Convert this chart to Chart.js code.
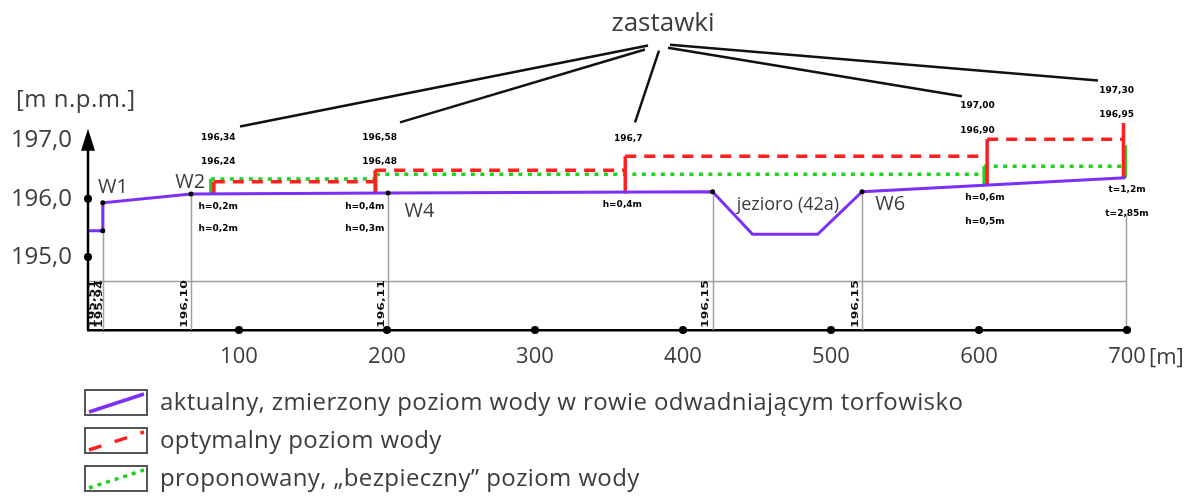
<!DOCTYPE html>
<html lang="pl">
<head>
<meta charset="utf-8">
<title>Profil poziomu wody</title>
<script src="https://cdn.jsdelivr.net/npm/chart.js@4.4.1/dist/chart.umd.min.js"></script>
<style>
  html, body { margin: 0; padding: 0; background: #fff; }
  #wrap { width: 1191px; height: 504px; }
</style>
</head>
<body>
<div id="wrap"><canvas id="profil" width="1191" height="504"></canvas></div>
<script>
// odległość [m] i rzędna [m n.p.m.]
const aktualnyX = [-2, 8, 8, 67.6, 200.7, 420, 447, 491, 521, 699];
const aktualnyY = [195.45, 195.45, 195.93, 196.08, 196.10, 196.12, 195.39, 195.39, 196.12, 196.36];

// optymalny poziom (null = przerwa)
const optymalnyX = [83, 83, 192, 192, 192, 192, 361, 361, 361, 361, 605.5, 605.5, 605.5, 605.5, 697.6, 697.6, 697.6];
const optymalnyY = [196.08, 196.29, 196.29, null, 196.09, 196.49, 196.49, null, 196.09, 196.73, 196.73, null, 196.23, 197.02, 197.02, 197.30, 196.37];

// proponowany, bezpieczny poziom
const bezpiecznyX = [81, 81, 192.5, 192.5, 192.5, 192.5, 603.5, 603.5, 603.5, 603.5, 699.5, 699.5, 699.5];
const bezpiecznyY = [196.08, 196.34, 196.34, null, 196.09, 196.42, 196.42, null, 196.23, 196.56, 196.56, 196.36, 196.92];

// punkty pomiarowe
const punktyX = [8, 8, 67.6, 200.7, 420, 521];
const punktyY = [195.45, 195.93, 196.08, 196.10, 196.12, 196.12];

const xTicks = [100, 200, 300, 400, 500, 600, 700];
const yTicks = [195, 196, 197];

// linie profilu i rzędne
const profilX = [8, 67.6, 200.7, 420, 521, 699];
const profilOd = [195.93, 196.08, 196.10, 196.12, 196.12, 195.73];
const rzedneX = [-2, 8, 67.6, 200.7, 420, 521];
const rzedne = ['195,51', '195,94', '196,10', '196,11', '196,15', '196,15'];
const liniaTabeli = 194.59;

// opisy zastawek
const opisGoraX = [86, 195, 363, 599, 693];
const opisGora = [['196,34', '196,24'], ['196,58', '196,48'], ['196,7'], ['197,00', '196,90'], ['197,30', '196,95']];
const opisGoraY = [[197.05, 196.63], [197.05, 196.63], [197.03], [197.59, 197.17], [197.86, 197.44]];
const opisDolX = [86, 185, 359, 604, 700];
const opisDol = [['h=0,2m', 'h=0,2m'], ['h=0,4m', 'h=0,3m'], ['h=0,4m'], ['h=0,6m', 'h=0,5m'], ['t=1,2m', 't=2,85m']];
const opisDolY = [[195.86, 195.49], [195.86, 195.49], [195.90], [196.02, 195.61], [196.15, 195.75]];

// wskaźniki od napisu "zastawki"
const wskazX0 = [376.4, 374.3, 383.8, 389.9, 391.2];
const wskazY0 = [198.63, 198.56, 198.54, 198.59, 198.64];
const wskazX1 = [100.7, 208.8, 367.6, 588.5, 680.4];
const wskazY1 = [197.24, 197.31, 197.31, 197.76, 198.03];

const wezlyNazwy = ['W1', 'W2', 'W4', 'W6'];
const wezlyX = [14.9, 67, 222, 540];
const wezlyY = [196.19, 196.29, 195.78, 195.90];

const legenda = [
  'aktualny, zmierzony poziom wody w rowie odwadniającym torfowisko',
  'optymalny poziom wody',
  'proponowany, \u201ebezpieczny\u201d poziom wody'
];

const FIOLET = '#7b2ff7', CZERWONY = '#ff1f1f', ZIELONY = '#1ed21e';
const TEKST = '#3c3c3c';
const FONT = '"Open Sans", sans-serif';

const pts = (xs, ys) => xs.map((x, i) => ({ x, y: ys[i] }));
const pion = (c) => c.p0.parsed.x === c.p1.parsed.x;

const dodatki = {
  id: 'dodatki',
  beforeDatasetsDraw(chart) {
    const { ctx, chartArea, scales: { x, y } } = chart;
    ctx.save();
    ctx.strokeStyle = '#a0a0a0';
    ctx.lineWidth = 1.5;
    profilX.forEach((v, i) => {
      const px = Math.round(x.getPixelForValue(v)) + 0.5;
      ctx.beginPath();
      ctx.moveTo(px, y.getPixelForValue(profilOd[i]));
      ctx.lineTo(px, chartArea.bottom);
      ctx.stroke();
    });
    const hy = Math.round(y.getPixelForValue(liniaTabeli)) + 0.5;
    ctx.beginPath();
    ctx.moveTo(chartArea.left, hy);
    ctx.lineTo(chartArea.right, hy);
    ctx.stroke();
    ctx.restore();
  },
  afterDraw(chart) {
    const { ctx, chartArea, scales: { x, y } } = chart;
    const ax = chartArea.left;
    ctx.save();

    // oś Y ze strzałką
    const tip = y.getPixelForValue(197.2);
    ctx.strokeStyle = '#000';
    ctx.fillStyle = '#000';
    ctx.lineWidth = 2.5;
    ctx.beginPath();
    ctx.moveTo(ax, chartArea.bottom);
    ctx.lineTo(ax, tip + 12);
    ctx.stroke();
    ctx.beginPath();
    ctx.moveTo(ax, tip);
    ctx.lineTo(ax - 7, tip + 22);
    ctx.lineTo(ax + 7, tip + 22);
    ctx.closePath();
    ctx.fill();

    // kropki na osiach
    [195, 196].forEach(v => {
      ctx.beginPath(); ctx.arc(ax, y.getPixelForValue(v), 4, 0, Math.PI * 2); ctx.fill();
    });
    xTicks.forEach(v => {
      ctx.beginPath(); ctx.arc(x.getPixelForValue(v), chartArea.bottom, 4, 0, Math.PI * 2); ctx.fill();
    });

    // opis osi
    ctx.fillStyle = TEKST;
    ctx.font = '24px ' + FONT;
    ctx.textBaseline = 'middle';
    ctx.textAlign = 'left';
    ctx.letterSpacing = '0.5px';
    ctx.fillText('[m n.p.m.]', 16, 100);
    ctx.font = '22px ' + FONT;
    ctx.letterSpacing = '0px';
    ctx.fillText('[m]', x.getPixelForValue(700) + 22, 358);

    // zastawki
    ctx.font = '26px ' + FONT;
    ctx.textAlign = 'center';
    ctx.fillText('zastawki', x.getPixelForValue(386.5), y.getPixelForValue(199.0));
    ctx.strokeStyle = '#111';
    ctx.lineWidth = 2.5;
    wskazX0.forEach((v, i) => {
      ctx.beginPath();
      ctx.moveTo(x.getPixelForValue(v), y.getPixelForValue(wskazY0[i]));
      ctx.lineTo(x.getPixelForValue(wskazX1[i]), y.getPixelForValue(wskazY1[i]));
      ctx.stroke();
    });

    // małe opisy
    ctx.fillStyle = '#000';
    ctx.font = 'bold 9px "DejaVu Sans"';
    opisGora.forEach((arr, i) => arr.forEach((t, j) =>
      ctx.fillText(t, x.getPixelForValue(opisGoraX[i]), y.getPixelForValue(opisGoraY[i][j]))));
    opisDol.forEach((arr, i) => arr.forEach((t, j) =>
      ctx.fillText(t, x.getPixelForValue(opisDolX[i]), y.getPixelForValue(opisDolY[i][j]))));

    // węzły i jezioro
    ctx.fillStyle = TEKST;
    ctx.font = '20px ' + FONT;
    wezlyNazwy.forEach((t, i) => ctx.fillText(t, x.getPixelForValue(wezlyX[i]), y.getPixelForValue(wezlyY[i])));
    ctx.font = '18px ' + FONT;
    ctx.fillText('jezioro (42a)', x.getPixelForValue(470.9), y.getPixelForValue(195.9));

    // rzędne (pionowo, wąskie)
    ctx.fillStyle = '#111';
    ctx.font = 'bold 8px "DejaVu Sans"';
    ctx.textAlign = 'left';
    rzedne.forEach((t, i) => {
      const px = x.getPixelForValue(rzedneX[i]) + (i === 0 ? 4.5 : (i === 1 ? -3 : -6.5));
      ctx.save();
      ctx.translate(px, chartArea.bottom - 2);
      ctx.rotate(-Math.PI / 2);
      ctx.scale(1.55, 1);
      ctx.fillText(t, 0, 0);
      ctx.restore();
    });

    // legenda
    const kolory = [FIOLET, CZERWONY, ZIELONY];
    const kreski = [[], [13, 14], [4, 5]];
    legenda.forEach((t, i) => {
      const top = 390 + i * 38;
      ctx.strokeStyle = '#555';
      ctx.lineWidth = 2;
      ctx.setLineDash([]);
      ctx.strokeRect(85, top, 62, 25);
      ctx.strokeStyle = kolory[i];
      ctx.lineWidth = 3.5;
      ctx.setLineDash(kreski[i]);
      ctx.beginPath();
      ctx.moveTo(89, top + 22);
      ctx.lineTo(144, top + 4);
      ctx.stroke();
      ctx.setLineDash([]);
      ctx.fillStyle = TEKST;
      ctx.font = '24px ' + FONT;
      ctx.letterSpacing = '0.4px';
      ctx.textBaseline = 'middle';
      ctx.fillText(t, 160, top + 13);
    });
    ctx.restore();
  }
};

Chart.defaults.font.family = FONT;

new Chart(document.getElementById('profil'), {
  type: 'scatter',
  data: {
    datasets: [
      {
        label: 'punkty',
        data: pts(punktyX, punktyY),
        pointRadius: 2.5,
        pointBackgroundColor: '#000',
        pointBorderWidth: 0,
        showLine: false
      },
      {
        label: 'aktualny, zmierzony poziom wody',
        data: pts(aktualnyX, aktualnyY),
        showLine: true,
        borderColor: FIOLET,
        borderWidth: 3,
        pointRadius: 0
      },
      {
        label: 'optymalny poziom wody',
        data: pts(optymalnyX, optymalnyY),
        showLine: true,
        spanGaps: false,
        borderColor: CZERWONY,
        borderWidth: 3.5,
        pointRadius: 0,
        segment: { borderDash: c => pion(c) ? [] : [11, 8] }
      },
      {
        label: 'proponowany, „bezpieczny” poziom wody',
        data: pts(bezpiecznyX, bezpiecznyY),
        showLine: true,
        spanGaps: false,
        borderColor: ZIELONY,
        borderWidth: 3.5,
        pointRadius: 0,
        segment: { borderDash: c => pion(c) ? [] : [4, 5.5] }
      }
    ]
  },
  options: {
    responsive: false,
    animation: false,
    layout: { padding: { left: 0, right: 64, top: 0, bottom: 129 } },
    plugins: { legend: { display: false }, tooltip: { enabled: false } },
    scales: {
      x: {
        type: 'linear',
        min: -2,
        max: 700,
        grid: { display: false, drawTicks: false },
        border: { display: true, color: '#000', width: 2.5 },
        afterBuildTicks: s => { s.ticks = xTicks.map(v => ({ value: v })); },
        afterFit: s => { s.height = 45; s.paddingLeft = 0; s.paddingRight = 0; },
        ticks: { padding: 14, autoSkip: false, maxRotation: 0, color: TEKST, font: { size: 22 } }
      },
      y: {
        type: 'linear',
        min: 193.75,
        max: 199.34,
        grid: { display: false, drawTicks: false },
        border: { display: false },
        afterBuildTicks: s => { s.ticks = yTicks.map(v => ({ value: v })); },
        afterFit: s => { s.width = 88; s.paddingTop = 0; s.paddingBottom = 0; },
        ticks: {
          padding: 16,
          color: TEKST,
          font: { size: 24 },
          callback: v => v.toFixed(1).replace('.', ',')
        }
      }
    }
  },
  plugins: [dodatki]
});
</script>
</body>
</html>
